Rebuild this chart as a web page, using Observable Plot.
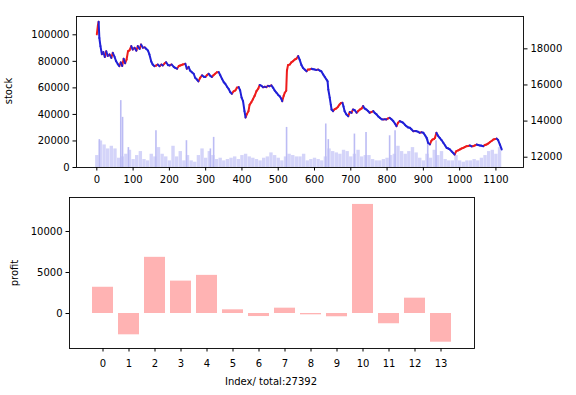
<!DOCTYPE html>
<html>
<head>
<meta charset="utf-8">
<script src="https://cdn.jsdelivr.net/npm/d3@7"></script>
<script src="https://cdn.jsdelivr.net/npm/@observablehq/plot@0.6"></script>
<style>
  html, body { margin: 0; padding: 0; background: #fff; }
  #wrap { position: relative; width: 576px; height: 395px; overflow: hidden; font-family: "DejaVu Sans", sans-serif; }
  #wrap svg { position: absolute; left: 0; }
  .lbl { position: absolute; font-size: 10px; color: #000; white-space: nowrap; font-family: "DejaVu Sans", sans-serif; }
</style>
</head>
<body>
<div id="wrap"></div>
<script>
// ---- top panel: price (right axis) ----
const priceIdx = [0,3,5,7,10,14,18,22,26,30,35,40,44,49,53,58,62,66,70,74,78,82,86,90,95,99,104,109,113,118,122,127,132,136,141,145,150,154,159,164,168,173,178,182,187,191,196,201,206,212,216,221,226,230,237,244,248,253,257,262,267,271,276,280,285,290,295,299,304,308,313,317,322,326,331,336,340,345,350,354,359,363,368,372,377,382,386,391,395,399,403,407,410,414,418,421,426,430,435,440,445,449,454,458,463,467,472,476,481,486,490,495,500,504,508,511,515,518,522,524,527,532,536,541,545,550,555,559,564,568,573,578,582,587,592,596,601,605,610,614,619,624,628,633,636,638,642,645,647,651,655,660,665,669,673,677,680,683,688,693,697,702,706,711,716,720,725,730,734,738,743,748,752,757,762,766,771,776,780,785,789,794,798,803,807,812,817,822,826,830,835,840,844,849,853,858,863,867,872,877,881,886,890,895,900,905,909,913,918,922,925,929,932,936,940,945,950,955,960,964,969,973,978,982,986,991,996,1001,1005,1010,1014,1019,1024,1028,1033,1037,1042,1047,1051,1056,1060,1065,1070,1074,1079,1083,1088,1093,1097,1102,1106,1111,1116];
const priceVal = [18800,19300,19500,18600,18150,17700,17820,17550,17870,17600,17690,17500,17780,17550,17320,17150,17040,17250,17050,17450,17200,17410,17870,17910,18150,17960,18060,17900,18150,18000,18240,18060,18080,18000,17900,17690,17300,17135,17040,17080,17135,17040,17135,17080,17200,17260,17100,17080,17135,17000,16950,16900,17050,17080,17135,17170,16900,17000,16800,16700,16620,16400,16300,16200,16400,16530,16450,16440,16550,16620,16500,16440,16550,16620,16700,16710,16550,16340,16150,16065,15900,15790,15600,15510,15650,15700,15850,15880,15700,15300,15100,14550,14200,14400,14550,14900,15050,15200,15400,15660,15800,16000,15950,15870,15900,15880,15950,15930,15980,15840,15700,15570,15450,15380,15250,15100,15400,15570,15680,16800,17100,17135,17250,17320,17400,17450,17600,17400,17100,16950,16850,16760,16850,16860,16900,16870,16850,16830,16850,16800,16750,16580,16450,16300,16200,15750,15290,14900,14640,14550,14650,14700,14800,14920,15000,15010,14800,14550,14370,14270,14500,14460,14640,14600,14460,14550,14640,14700,14830,14700,14640,14550,14460,14500,14550,14450,14370,14250,14180,14100,14090,14100,14090,14150,14180,14100,14000,13850,13720,13900,14000,13950,13910,13800,13720,13650,13630,13550,13440,13450,13440,13400,13350,13380,13350,13200,13070,12800,12710,12900,12980,13000,13070,13350,13200,13070,12950,12800,12650,12520,12480,12430,12320,12240,12150,12340,12380,12430,12480,12520,12560,12610,12620,12650,12600,12610,12650,12700,12680,12650,12640,12610,12680,12700,12760,12830,12900,12980,13000,13030,12950,12700,12430];

// ---- top panel: volume (left axis "stock") ----
const volStep = 10;
const volBase = [9000,20000,17000,14000,16000,14000,7000,8000,10000,13000,6000,9000,12000,6000,5000,10000,8000,15000,10000,8000,5000,16000,8000,12000,5000,9000,5000,4000,9000,14000,7000,12000,9000,6000,7000,5000,6000,7000,8000,6000,9000,10000,8000,7000,6000,5000,7000,8000,11000,9000,7000,5000,8000,10000,9000,8000,8000,10000,5000,6000,7000,6000,5000,8000,14000,12000,11000,10000,13000,12000,8000,10000,13000,8000,9000,9000,6000,5000,5000,6000,7000,9000,10000,16000,12000,10000,12000,15000,11000,7000,5000,10000,7000,13000,9000,12000,6000,5000,5000,9000,5000,4000,5000,5000,6000,5000,7000,9000,12000,13000,10000,15000];
const spikeIdx = [7,66,71,87,163,247,313,322,523,631,638,710,742,807,822,912,935];
const spikeVal = [21000,50400,37800,15000,27700,20200,14000,22700,30200,32800,21000,25200,26400,23900,27700,21400,20200];

const xTicks = [0,100,200,300,400,500,600,700,800,900,1000,1100];
const stockTicks = [0,20000,40000,60000,80000,100000];
const priceTicks = [12000,14000,16000,18000];

// ---- bottom panel: profit ----
const profitIdx = [0,1,2,3,4,5,6,7,8,9,10,11,12,13];
const profitVal = [3200,-2600,6850,3950,4650,450,-370,650,-160,-400,13300,-1250,1870,-3500];
const profitTicks = [0,5000,10000];
const xLabel = "Index/ total:27392";

const font = {fontSize: "10px", fontFamily: "DejaVu Sans, sans-serif", color: "#000", background: "transparent", overflow: "visible"};
const wrap = document.getElementById("wrap");

const base = volBase.map((v, k) => ({i: k * volStep, v}));
const spikes = spikeIdx.map((i, k) => ({i, v: spikeVal[k]}));
const price = priceIdx.map((i, k) => ({i, p: priceVal[k]}));
const segs = d3.pairs(price).map(([a, b]) => ({x1: a.i, y1: a.p, x2: b.i, y2: b.p, up: b.p >= a.p}));

const topDims = {width: 576, height: 185, marginLeft: 76, marginRight: 53, marginTop: 16, marginBottom: 18};
const xDom = [-56, 1176];

const volPlot = Plot.plot({
  ...topDims,
  style: font,
  x: {domain: xDom},
  y: {domain: [0, 113800]},
  marks: [
    Plot.ruleX(base, {x: "i", y1: 0, y2: "v", stroke: "#d4d4f9", strokeWidth: 3.4}),
    Plot.ruleX(spikes, {x: "i", y1: 0, y2: "v", stroke: "#bcbcf4", strokeWidth: 1.6}),
    Plot.axisX({ticks: xTicks, tickFormat: "d", tickSize: 3.5, tickPadding: 5, label: null}),
    Plot.axisY({ticks: stockTicks, tickFormat: "d", tickSize: 3.5, tickPadding: 3.5, label: null}),
    Plot.frame({stroke: "#000", strokeWidth: 0.9})
  ]
});

const pricePlot = Plot.plot({
  ...topDims,
  style: font,
  x: {domain: xDom, axis: null},
  y: {domain: [11430, 19790]},
  marks: [
    Plot.link(segs.filter(d => d.up), {x1: "x1", y1: "y1", x2: "x2", y2: "y2", stroke: "#ee1c1c", strokeWidth: 2, strokeLinecap: "round"}),
    Plot.link(segs.filter(d => !d.up), {x1: "x1", y1: "y1", x2: "x2", y2: "y2", stroke: "#2020d8", strokeWidth: 2, strokeLinecap: "round"}),
    Plot.axisY({anchor: "right", ticks: priceTicks, tickFormat: "d", tickSize: 3.5, tickPadding: 3.5, label: null})
  ]
});

const profit = profitIdx.map((i, k) => ({i, v: profitVal[k]}));
const profitPlot = Plot.plot({
  width: 576, height: 210, marginLeft: 69, marginRight: 102, marginTop: 12, marginBottom: 47,
  style: font,
  x: {type: "band", domain: profitIdx, paddingInner: 0.2, paddingOuter: 0.63},
  y: {domain: [-4268, 14146]},
  marks: [
    Plot.barY(profit, {x: "i", y: "v", fill: "#ffb3b3"}),
    Plot.axisX({tickSize: 3.5, tickPadding: 7.5, label: null}),
    Plot.axisY({ticks: profitTicks, tickFormat: "d", tickSize: 3.5, tickPadding: 3.5, label: null}),
    Plot.frame({stroke: "#000", strokeWidth: 0.9})
  ]
});

volPlot.style.top = "0px";
pricePlot.style.top = "0px";
profitPlot.style.top = "185px";
wrap.appendChild(volPlot);
wrap.appendChild(pricePlot);
wrap.appendChild(profitPlot);

function addLabel(text, cx, cy, rotate) {
  const s = document.createElement("div");
  s.className = "lbl";
  s.textContent = text;
  s.style.left = cx + "px";
  s.style.top = cy + "px";
  s.style.transform = "translate(-50%,-50%)" + (rotate ? " rotate(-90deg)" : "");
  wrap.appendChild(s);
}
addLabel("stock", 8, 91, true);
addLabel("profit", 14, 273, true);
addLabel(xLabel, 271, 381, false);
</script>
</body>
</html>
